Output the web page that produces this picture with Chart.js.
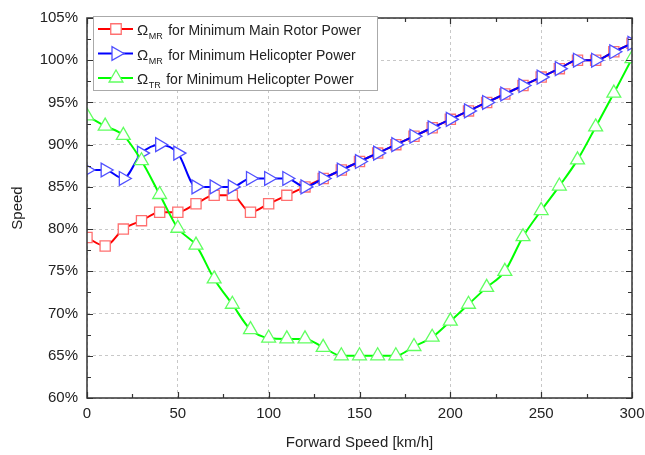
<!DOCTYPE html>
<html>
<head>
<meta charset="utf-8">
<script src="https://cdn.jsdelivr.net/npm/chart.js@4/dist/chart.umd.min.js"></script>
<style>
html,body{margin:0;padding:0;background:#fff;}
#wrap{width:645px;height:455px;position:relative;}
</style>
</head>
<body>
<div id="wrap"><canvas id="c" width="645" height="455"></canvas></div>
<script>
const speeds = [0,10,20,30,40,50,60,70,80,90,100,110,120,130,140,150,160,170,180,190,200,210,220,230,240,250,260,270,280,290,300];
const omegaMRMainRotor = [79,78,80,81,82,82,83,84,84,82,83,84,85,86,87,88,89,90,91,92,93,94,95,96,97,98,99,100,100,101,102];
const omegaMRHelicopter = [87,87,86,89,90,89,85,85,85,86,86,86,85,86,87,88,89,90,91,92,93,94,95,96,97,98,99,100,100,101,102];
const omegaTRHelicopter = [93.4,92.2,91.1,88.1,84.1,80.1,78.1,74.1,71.1,68.1,67.1,67,67,66,65,65,65,65,66.1,67.2,69.1,71.1,73.1,75,79.1,82.2,85.1,88.2,92.1,96.1,100.2];
const yTicks = [60,65,70,75,80,85,90,95,100,105];
const xTicks = [0,50,100,150,200,250,300];
const seriesNames = ['for Minimum Main Rotor Power','for Minimum Helicopter Power','for Minimum Helicopter Power'];
const seriesSubs = ['MR','MR','TR'];

const FONT = 'Arial, "Liberation Sans", sans-serif';

function pts(arr){ return speeds.map((s,i)=>({x:s,y:arr[i]})); }

function drawMarker(ctx, style, x, y, r, stroke){
  ctx.save();
  ctx.fillStyle = '#fff';
  ctx.strokeStyle = stroke;
  ctx.lineWidth = 1.3;
  ctx.beginPath();
  if(style==='rect'){
    const s = r*0.7;
    ctx.rect(x-s,y-s,2*s,2*s);
  } else if(style==='triR'){
    ctx.moveTo(x+r,y);
    ctx.lineTo(x-r*0.5,y-r*0.866);
    ctx.lineTo(x-r*0.5,y+r*0.866);
    ctx.closePath();
  } else {
    ctx.moveTo(x,y-r);
    ctx.lineTo(x+r*0.866,y+r*0.5);
    ctx.lineTo(x-r*0.866,y+r*0.5);
    ctx.closePath();
  }
  ctx.fill(); ctx.stroke();
  ctx.restore();
}

const framePlugin = {
  id:'frame',
  afterDraw(chart){
    const ctx = chart.ctx, a = chart.chartArea;
    const xs = chart.scales.x, ys = chart.scales.y;
    ctx.save();
    ctx.strokeStyle = '#333';
    ctx.lineWidth = 1.5;
    ctx.strokeRect(a.left, a.top, a.right-a.left, a.bottom-a.top);
    ctx.lineWidth = 1.2;
    ctx.beginPath();
    for(let v=0; v<=300; v+=25){
      const px = Math.round(xs.getPixelForValue(v))+0.5;
      const L = (v%50===0)?6:4;
      ctx.moveTo(px,a.bottom); ctx.lineTo(px,a.bottom-L);
      ctx.moveTo(px,a.top); ctx.lineTo(px,a.top+L);
    }
    for(let v=60; v<=105; v+=2.5){
      const py = Math.round(ys.getPixelForValue(v))+0.5;
      const L = (Math.abs(v%5)<1e-6)?6:4;
      ctx.moveTo(a.left,py); ctx.lineTo(a.left+L,py);
      ctx.moveTo(a.right,py); ctx.lineTo(a.right-L,py);
    }
    ctx.stroke();

    // legend
    const bx=93, by=16, bw=284, bh=74;
    ctx.fillStyle='#fff';
    ctx.fillRect(bx,by,bw,bh);
    ctx.strokeStyle='#aaa'; ctx.lineWidth=1;
    ctx.strokeRect(bx+0.5,by+0.5,bw,bh);
    const cols = ['#ff0000','#0000ff','#00ff00'];
    const mcols = ['#ff7070','#5050ff','#60ff60'];
    const styles = ['rect','triR','tri'];
    for(let i=0;i<3;i++){
      const y = 29 + i*24.5;
      ctx.strokeStyle = cols[i]; ctx.lineWidth = 2;
      ctx.beginPath(); ctx.moveTo(98,y); ctx.lineTo(133,y); ctx.stroke();
      drawMarker(ctx, styles[i], 116, y, styles[i]==='rect'?7.5:8, mcols[i]);
      ctx.fillStyle = '#222';
      ctx.textBaseline='alphabetic'; ctx.textAlign='left';
      ctx.font = '15px '+FONT;
      ctx.fillText('\u03A9', 137, y+6);
      const ow = ctx.measureText('\u03A9').width;
      ctx.font = '9px '+FONT;
      ctx.fillText(seriesSubs[i], 137+ow+0.5, y+10);
      const sw = ctx.measureText(seriesSubs[i]).width;
      ctx.font = '14px '+FONT;
      ctx.fillText(seriesNames[i], 137+ow+sw+6, y+6);
    }
    ctx.restore();
  }
};

const ds = (label, data, color, mcolor, style, rot, order, r) => ({
  label, data: pts(data), borderColor: color, borderWidth: 2,
  pointStyle: style, pointRotation: rot, pointRadius: r, pointHoverRadius: r,
  pointBackgroundColor: '#fff', pointBorderColor: mcolor, pointBorderWidth: 1.3,
  cubicInterpolationMode: 'monotone', fill: false, order
});

new Chart(document.getElementById('c'), {
  type: 'line',
  data: {
    datasets: [
      ds('MR main', omegaMRMainRotor, '#ff0000', '#ff7070', 'rect', 0, 2, 7.2),
      ds('MR heli', omegaMRHelicopter, '#0000ff', '#5050ff', 'triangle', 90, 1, 8),
      ds('TR heli', omegaTRHelicopter, '#00ff00', '#60ff60', 'triangle', 0, 0, 8)
    ]
  },
  options: {
    responsive: false,
    animation: false,
    layout: { padding: { top: 13, right: 0, left: 0, bottom: 0 } },
    plugins: { legend: { display: false }, tooltip: { enabled: false } },
    scales: {
      x: {
        type: 'linear', min: 0, max: 300,
        afterBuildTicks: s => { s.ticks = xTicks.map(v=>({value:v})); },
        afterFit: s => { s.height = 57; s.paddingRight = 13; },
        grid: { color: '#c8c8c8', lineWidth: 1, drawTicks: false },
        border: { display: false, dash: [3,3] },
        ticks: { padding: 7, color: '#222', font: { family: FONT, size: 15 }, maxRotation: 0 },
        title: { display: true, text: 'Forward Speed [km/h]', color: '#222', font: { family: FONT, size: 15 }, padding: { top: 4, bottom: 3 } }
      },
      y: {
        type: 'linear', min: 60, max: 105,
        afterBuildTicks: s => { s.ticks = yTicks.map(v=>({value:v})); },
        afterFit: s => { s.width = 87; },
        grid: { color: '#c8c8c8', lineWidth: 1, drawTicks: false },
        border: { display: false, dash: [3,3] },
        ticks: { padding: 9, color: '#222', font: { family: FONT, size: 15 }, callback: v => v + '%' },
        title: { display: true, text: 'Speed', color: '#222', font: { family: FONT, size: 15 }, padding: { top: 9, bottom: 0 } }
      }
    }
  },
  plugins: [framePlugin]
});
</script>
</body>
</html>
